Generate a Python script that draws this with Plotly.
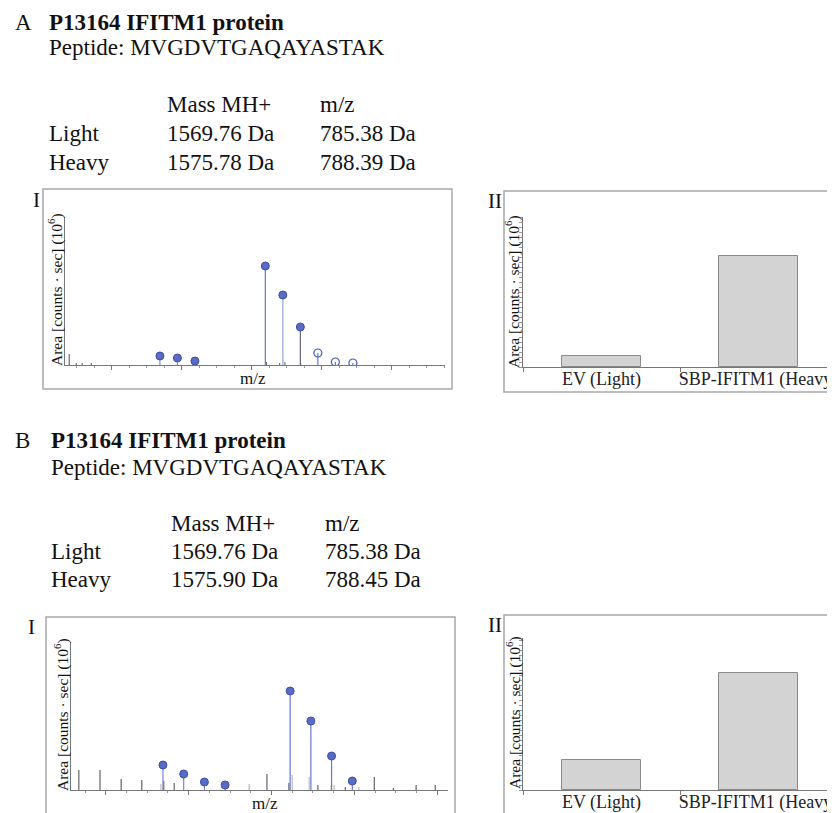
import plotly.graph_objects as go

W, H = 835, 813
OFF = 8  # default page body margin
FONT = "Liberation Serif"

# ---------------- data ----------------
protein = "P13164 IFITM1 protein"
peptide = "MVGDVTGAQAYASTAK"
table_rows = ["Light", "Heavy"]
A_mass = ["1569.76 Da", "1575.78 Da"]
A_mz = ["785.38 Da", "788.39 Da"]
B_mass = ["1569.76 Da", "1575.90 Da"]
B_mz = ["785.38 Da", "788.45 Da"]

# Panel A-I spectrum (area, 10^6)
A_light_x = [785.38, 785.88, 786.38]
A_light_y = [0.9, 0.7, 0.4]
A_heavy_x = [788.39, 788.89, 789.39]
A_heavy_y = [9.9, 7.0, 3.8]
A_open_x = [789.89, 790.39, 790.89]
A_open_y = [1.2, 0.3, 0.2]
A_noise_x = [782.79, 782.99, 783.16, 783.42, 788.42, 788.80, 788.95, 789.40]
A_noise_y = [1.1, 0.2, 0.2, 0.2, 0.3, 0.2, 0.3, 0.2]

# Panel B-I spectrum
B_light_x = [785.38, 785.88, 786.38, 786.88]
B_light_y = [2.5, 1.6, 0.8, 0.5]
B_heavy_x = [788.45, 788.95, 789.45, 789.95]
B_heavy_y = [9.9, 6.9, 3.4, 0.9]
B_noise_dark_x = [783.35, 783.86, 784.37, 784.87, 785.40, 785.65, 787.89, 788.42,
                  789.12, 789.78, 790.48, 790.94, 791.49, 791.95]
B_noise_dark_y = [2.0, 2.0, 1.1, 1.0, 0.9, 0.7, 1.6, 0.7, 0.5, 0.3, 1.3, 0.2, 0.5, 0.5]
B_noise_gray_x = [785.33, 787.46, 788.50, 788.91, 789.44, 789.51, 790.11]
B_noise_gray_y = [0.6, 0.6, 1.5, 1.3, 0.5, 0.5, 0.3]

# Panel II bars
bar_labels = ["EV (Light)", "SBP-IFITM1 (Heavy)"]
A_bar_values = [1.1, 11.1]
B_bar_values = [3.0, 11.7]


def px(x):
    return (x - OFF) / W


def py(y):
    return 1 - (y - OFF) / H


def stems(xs, ys):
    sx, sy = [], []
    for x, y in zip(xs, ys):
        sx += [x, x, None]
        sy += [0, y, None]
    return sx, sy


fig = go.Figure()

BALL = dict(symbol="circle", size=8, color="#5a6bc4", line=dict(color="#3d4ea6", width=1))


def add_spectrum(xa, ya, groups, balls, opens=None):
    for xs, ys, col, wd in groups:
        sx, sy = stems(xs, ys)
        fig.add_trace(go.Scatter(x=sx, y=sy, mode="lines", xaxis=xa, yaxis=ya,
                                 line=dict(color=col, width=wd), hoverinfo="skip",
                                 showlegend=False))
    for xs, ys in balls:
        fig.add_trace(go.Scatter(x=xs, y=ys, mode="markers", xaxis=xa, yaxis=ya,
                                 marker=BALL, showlegend=False))
    if opens:
        xs, ys = opens
        fig.add_trace(go.Scatter(x=xs, y=ys, mode="markers", xaxis=xa, yaxis=ya,
                                 marker=dict(symbol="circle-open", size=8, color="#4a5cc0",
                                             line=dict(width=1.2)),
                                 showlegend=False))


# A-I
add_spectrum("x", "y",
             [(A_noise_x, A_noise_y, "#555555", 1),
              (A_light_x, A_light_y, "#8090d4", 1.2),
              (A_heavy_x[:1], A_heavy_y[:1], "#6677cc", 1.2),
              (A_heavy_x[1:2], A_heavy_y[1:2], "#aab3dc", 1.5),
              (A_heavy_x[2:], A_heavy_y[2:], "#666677", 1.2),
              (A_open_x, A_open_y, "#6677cc", 1.2)],
             [(A_light_x, A_light_y), (A_heavy_x, A_heavy_y)],
             (A_open_x, A_open_y))

# B-I
add_spectrum("x3", "y3",
             [(B_noise_gray_x, B_noise_gray_y, "#bbbbbb", 1.2),
              (B_noise_dark_x, B_noise_dark_y, "#444444", 1),
              (B_light_x, B_light_y, "#7585d0", 1.2),
              (B_heavy_x, B_heavy_y, "#6677cc", 1.2)],
             [(B_light_x, B_light_y), (B_heavy_x, B_heavy_y)])

# II bars
fig.add_trace(go.Bar(x=bar_labels, y=A_bar_values, xaxis="x2", yaxis="y2", width=0.5,
                     marker=dict(color="#d3d3d3", line=dict(color="#8a8a8a", width=1)),
                     showlegend=False))
fig.add_trace(go.Bar(x=bar_labels, y=B_bar_values, xaxis="x4", yaxis="y4", width=0.5,
                     marker=dict(color="#d3d3d3", line=dict(color="#8a8a8a", width=1)),
                     showlegend=False))

AX = dict(showgrid=False, zeroline=False, showline=True, linecolor="#777777", linewidth=1,
          automargin=False)
spec_x = dict(AX, showticklabels=False, ticks="outside", ticklen=4, tickcolor="#777777",
              dtick=2, tick0=784, minor=dict(ticks="outside", ticklen=2, dtick=0.5,
                                             tickcolor="#999999"))
spec_y = dict(AX, showticklabels=False, ticks="", range=[0, 14.8])
bar_x = dict(AX, type="category", tickson="boundaries", ticks="outside", ticklen=4,
             tickangle=0, tickcolor="#777777", ticklabelstandoff=-5,
             tickfont=dict(family=FONT, size=18, color="#222222"))
bar_y = dict(AX, showticklabels=False, ticks="outside", ticklen=3, dtick=0.5,
             tickcolor="#999999")

bar_range_right = -0.5 + (W + OFF - 523) / 157.0

fig.update_layout(
    width=W, height=H, margin=dict(l=0, r=0, t=0, b=0, autoexpand=False),
    paper_bgcolor="white", plot_bgcolor="rgba(0,0,0,0)", bargap=0,
    xaxis=dict(spec_x, domain=[px(65), px(445)], range=[782.67, 793.52], anchor="y"),
    yaxis=dict(spec_y, domain=[py(365), py(217)], anchor="x"),
    xaxis2=dict(bar_x, domain=[px(523), 1.0], range=[-0.5, bar_range_right], anchor="y2"),
    yaxis2=dict(bar_y, domain=[py(367), py(217)], range=[0, 15], anchor="x2"),
    xaxis3=dict(spec_x, domain=[px(71), px(448)], range=[783.16, 792.26], anchor="y3"),
    yaxis3=dict(spec_y, domain=[py(790), py(642)], anchor="x3"),
    xaxis4=dict(bar_x, domain=[px(523), 1.0], range=[-0.5, bar_range_right], anchor="y4"),
    yaxis4=dict(bar_y, domain=[py(790), py(638)], range=[0, 15.2], anchor="x4"),
)

# panel boxes
BOX = dict(color="#a8a8a8", width=1.5)
for x0, y0, x1, y1 in [(43, 189, 452, 389), (504, 191, 850, 392),
                       (46, 617, 455, 830), (504, 615, 850, 830)]:
    fig.add_shape(type="rect", xref="paper", yref="paper",
                  x0=px(x0), x1=px(x1), y0=py(y1), y1=py(y0), line=BOX,
                  fillcolor="rgba(0,0,0,0)", layer="below")


def txt(x, y, s, size=23, bold=False, anchor="left", angle=0):
    fig.add_annotation(x=px(x), y=py(y), xref="paper", yref="paper", text=(f"<b>{s}</b>" if bold else s),
                       showarrow=False, xanchor=anchor, yanchor="middle", textangle=angle,
                       font=dict(family=FONT, size=size, color="#111111"))


def header(letter, y0, xs, mass, mz, ys):
    txt(xs[0], y0, letter)
    txt(xs[1], y0, protein, bold=True)
    txt(xs[1], ys[0], "Peptide: " + peptide)
    txt(xs[2], ys[1], "Mass MH+")
    txt(xs[3], ys[1], "m/z")
    for i, r in enumerate(table_rows):
        txt(xs[1], ys[2 + i], r)
        txt(xs[2], ys[2 + i], mass[i])
        txt(xs[3], ys[2 + i], mz[i])


header("A", 23, [13, 47, 165, 318], A_mass, A_mz, [47, 105, 133, 162])
header("B", 440, [13, 49, 169, 323], B_mass, B_mz, [467, 523, 551, 579])

ylab = "Area [counts · sec] (10<sup>6</sup>)"
txt(56, 290, ylab, size=15.5, anchor="center", angle=-90)
txt(513, 292, ylab, size=15.5, anchor="center", angle=-90)
txt(61, 715, ylab, size=15.5, anchor="center", angle=-90)
txt(513, 713, ylab, size=15.5, anchor="center", angle=-90)

txt(253, 378, "m/z", size=17, anchor="center")
txt(265, 803, "m/z", size=17, anchor="center")

txt(36, 200, "I", size=21, anchor="center")
txt(31, 627, "I", size=21, anchor="center")
txt(495, 201, "II", size=21, anchor="center")
txt(495, 625, "II", size=21, anchor="center")

fig.write_html("out.html")
